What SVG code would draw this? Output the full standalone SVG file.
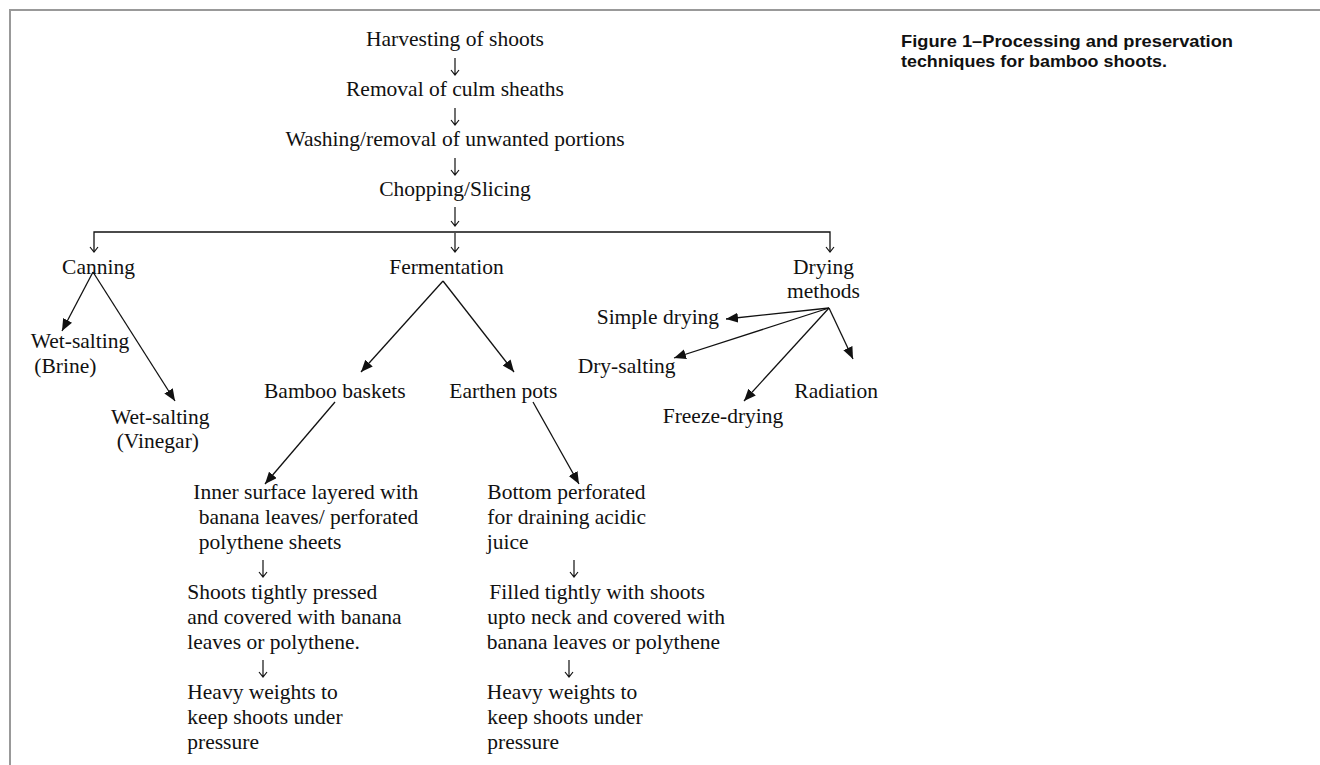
<svg xmlns="http://www.w3.org/2000/svg" width="1320" height="765" viewBox="0 0 1320 765">
<defs>
<style>
.t{font-family:"Liberation Serif","Times New Roman",serif;font-size:21.5px;fill:#111}
.m{text-anchor:middle}
.cap{font-family:"Liberation Sans",Arial,sans-serif;font-size:16.5px;font-weight:bold;fill:#111}
.ln{stroke:#111;stroke-width:1.3;fill:none}
.ar{stroke:#111;stroke-width:1.3;fill:none;marker-end:url(#fh)}
.dn{stroke:#111;stroke-width:1.2;fill:none}
.frame{stroke:#999;stroke-width:2;fill:none}
</style>
<marker id="fh" markerUnits="userSpaceOnUse" markerWidth="13" markerHeight="11" refX="12" refY="5" orient="auto">
<path d="M0,0 L12,5 L0,10 z" fill="#111"/>
</marker>
</defs>
<rect width="1320" height="765" fill="#fff"/>
<path class="frame" d="M10,765 V10 H1320"/>

<g id="caption">
<text class="cap" x="901" y="47" textLength="332" lengthAdjust="spacingAndGlyphs">Figure 1–Processing and preservation</text>
<text class="cap" x="901" y="66.5" textLength="266" lengthAdjust="spacingAndGlyphs">techniques for bamboo shoots.</text>
</g>

<g id="connectors">
<path class="dn" d="M455,58 V75 M451,70 L455,75 L459,70"/>
<path class="dn" d="M455,108 V125 M451,120 L455,125 L459,120"/>
<path class="dn" d="M455,158 V175 M451,170 L455,175 L459,170"/>
<path class="dn" d="M455,207 V226 M451,221 L455,226 L459,221"/>
<path class="ln" d="M94,252 V232 H830 V252"/>
<path class="dn" d="M90,247 L94,252 L98,247"/>
<path class="dn" d="M826,247 L830,252 L834,247"/>
<path class="dn" d="M455,233 V252 M451,247 L455,252 L459,247"/>
<path class="dn" d="M263,560 V577 M259,572 L263,577 L267,572"/>
<path class="dn" d="M263,660 V677 M259,672 L263,677 L267,672"/>
<path class="dn" d="M574,560 V577 M570,572 L574,577 L578,572"/>
<path class="dn" d="M569,660 V677 M565,672 L569,677 L573,672"/>
<line class="ar" x1="93" y1="272" x2="62" y2="331"/>
<line class="ar" x1="93" y1="272" x2="175" y2="401"/>
<line class="ar" x1="443" y1="281" x2="361" y2="372"/>
<line class="ar" x1="443" y1="281" x2="514" y2="372"/>
<line class="ar" x1="335" y1="402" x2="265" y2="484"/>
<line class="ar" x1="533" y1="402" x2="579" y2="484"/>
<line class="ar" x1="829" y1="308" x2="726" y2="319"/>
<line class="ar" x1="829" y1="308" x2="674" y2="358"/>
<line class="ar" x1="829" y1="308" x2="744" y2="401"/>
<line class="ar" x1="829" y1="308" x2="853" y2="359"/>
</g>

<g id="harvesting"><text class="t m" x="455" y="46">Harvesting of shoots</text></g>
<g id="removal"><text class="t m" x="455" y="96">Removal of culm sheaths</text></g>
<g id="washing"><text class="t m" x="455" y="146">Washing/removal of unwanted portions</text></g>
<g id="chopping"><text class="t m" x="455" y="196">Chopping/Slicing</text></g>

<g id="canning"><text class="t m" x="98.5" y="274">Canning</text></g>
<g id="fermentation"><text class="t m" x="446.5" y="274">Fermentation</text></g>
<g id="drying"><text class="t m" x="823.5" y="274">Drying</text><text class="t m" x="823.5" y="297.5">methods</text></g>

<g id="wet-brine"><text class="t" x="30.7" y="348">Wet-salting</text><text class="t" x="34.3" y="373">(Brine)</text></g>
<g id="wet-vinegar"><text class="t" x="111" y="424">Wet-salting</text><text class="t" x="116.7" y="448">(Vinegar)</text></g>

<g id="bamboo-baskets"><text class="t" x="264" y="398">Bamboo baskets</text></g>
<g id="earthen-pots"><text class="t" x="449.3" y="398">Earthen pots</text></g>

<g id="simple-drying"><text class="t" x="596.7" y="324">Simple drying</text></g>
<g id="dry-salting"><text class="t" x="577.7" y="373">Dry-salting</text></g>
<g id="freeze-drying"><text class="t" x="662.7" y="423">Freeze-drying</text></g>
<g id="radiation"><text class="t" x="794.3" y="398">Radiation</text></g>

<g id="basket-step1">
<text class="t" x="193.3" y="499.3">Inner surface layered with</text>
<text class="t" x="198.7" y="524">banana leaves/ perforated</text>
<text class="t" x="198.7" y="548.7">polythene sheets</text>
</g>
<g id="basket-step2">
<text class="t" x="187.3" y="599.3">Shoots tightly pressed</text>
<text class="t" x="187.3" y="624">and covered with banana</text>
<text class="t" x="187.3" y="648.7">leaves or polythene.</text>
</g>
<g id="basket-step3">
<text class="t" x="187.3" y="699.3">Heavy weights to</text>
<text class="t" x="187.3" y="724">keep shoots under</text>
<text class="t" x="187.3" y="748.7">pressure</text>
</g>

<g id="pot-step1">
<text class="t" x="487.3" y="499.3">Bottom perforated</text>
<text class="t" x="487.3" y="524">for draining acidic</text>
<text class="t" x="486.7" y="548.7">juice</text>
</g>
<g id="pot-step2">
<text class="t" x="489.3" y="599.3">Filled tightly with shoots</text>
<text class="t" x="487.3" y="624">upto neck and covered with</text>
<text class="t" x="486.7" y="648.7">banana leaves or polythene</text>
</g>
<g id="pot-step3">
<text class="t" x="486.7" y="699.3">Heavy weights to</text>
<text class="t" x="487.3" y="724">keep shoots under</text>
<text class="t" x="487.3" y="748.7">pressure</text>
</g>
</svg>
